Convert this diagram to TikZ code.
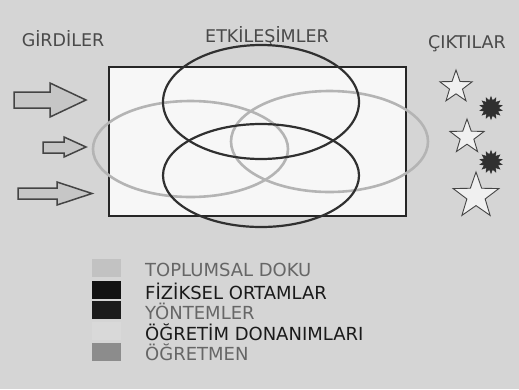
\documentclass[tikz,border=0pt]{standalone}
\usepackage{fontspec}
\setmainfont{DejaVu Sans}
\usetikzlibrary{shapes.geometric}
\definecolor{bg}{HTML}{D5D5D5}
\definecolor{boxfill}{HTML}{F7F7F7}
\definecolor{dk}{HTML}{303030}
\definecolor{lt}{HTML}{B4B4B4}
\definecolor{hdr}{HTML}{4A4A4A}
\definecolor{arrfill}{HTML}{C6C6C6}
\definecolor{arrline}{HTML}{444444}
\definecolor{legA}{HTML}{C2C2C2}
\definecolor{legB}{HTML}{121212}
\definecolor{legC}{HTML}{1C1C1C}
\definecolor{legD}{HTML}{D9D9D9}
\definecolor{legE}{HTML}{8C8C8C}
\definecolor{txtgray}{HTML}{666666}
\definecolor{txtblack}{HTML}{1A1A1A}
\tikzset{
  header/.style={text=hdr, font=\fontsize{17.5}{20}\selectfont, inner sep=0pt},
  legtext/.style={anchor=west, font=\fontsize{18}{20}\selectfont, inner sep=0pt},
  legbox/.style={minimum width=29pt, minimum height=18pt, inner sep=0pt, draw=none},
  bigarrow/.style={fill=arrfill, draw=arrline, line width=1.5pt, line join=miter},
  darkell/.style={draw=dk, line width=2.2pt},
  lightell/.style={draw=lt, line width=2.6pt},
  outstar/.style={star, star points=5, star point ratio=2.5, draw=arrline, fill=boxfill!80!bg, line width=0.9pt, inner sep=0pt},
  burst/.style={star, star points=14, star point ratio=1.55, fill=dk, draw=dk, inner sep=0pt}
}
\begin{document}
\begin{tikzpicture}[x=1pt,y=-1pt]
\fill[bg] (0,0) rectangle (519,389);
\useasboundingbox (0,0) rectangle (519,389);
% headers
\node[header] (girdi) at (63,39) {GİRDİLER};
\node[header] (etki) at (267,36) {ETKİLEŞİMLER};
\node[header] (cikti) at (467,44) {ÇIKTILAR};
% main box
\draw[fill=boxfill, draw=black!85, line width=1.6pt] (109,67) rectangle (406,216);
% ellipses
\draw[lightell] (190.5,149) ellipse (97.5 and 48);
\draw[lightell] (329.5,141.5) ellipse (98.5 and 50.5);
\draw[darkell] (261,102) ellipse (98 and 57);
\draw[darkell] (261,175.5) ellipse (98 and 51.5);
% input arrows
\draw[bigarrow] (14,92) -- (50,92) -- (50,83) -- (86,100) -- (50,117) -- (50,108) -- (14,108) -- cycle;
\draw[bigarrow] (43,142) -- (64,142) -- (64,137) -- (86,147) -- (64,157) -- (64,153) -- (43,153) -- cycle;
\draw[bigarrow] (18,188) -- (57,188) -- (57,182) -- (92,193.5) -- (57,205) -- (57,199) -- (18,199) -- cycle;
% outputs
\node[outstar, minimum size=34pt] (s1) at (456,87) {};
\node[outstar, minimum size=36pt] (s2) at (467,137) {};
\node[outstar, minimum size=48pt] (s3) at (476,196) {};
\node[burst, minimum size=23pt] (b1) at (491,108) {};
\node[burst, minimum size=23pt] (b2) at (491,162) {};
% legend
\node[legbox, fill=legA] (l1) at (106.5,267.5) {};
\node[legbox, fill=legB] (l2) at (106.5,289.5) {};
\node[legbox, fill=legC] (l3) at (106.5,309.5) {};
\node[legbox, fill=legD] (l4) at (106.5,331) {};
\node[legbox, fill=legE] (l5) at (106.5,351.5) {};
\node[legtext, text=txtgray] (t1) at (145,270) {TOPLUMSAL DOKU};
\node[legtext, text=txtblack] (t2) at (145,291) {FİZİKSEL ORTAMLAR};
\node[legtext, text=txtgray] (t3) at (145,311.5) {YÖNTEMLER};
\node[legtext, text=txtblack] (t4) at (145,332) {ÖĞRETİM DONANIMLARI};
\node[legtext, text=txtgray] (t5) at (145,352) {ÖĞRETMEN};
\end{tikzpicture}
\end{document}
